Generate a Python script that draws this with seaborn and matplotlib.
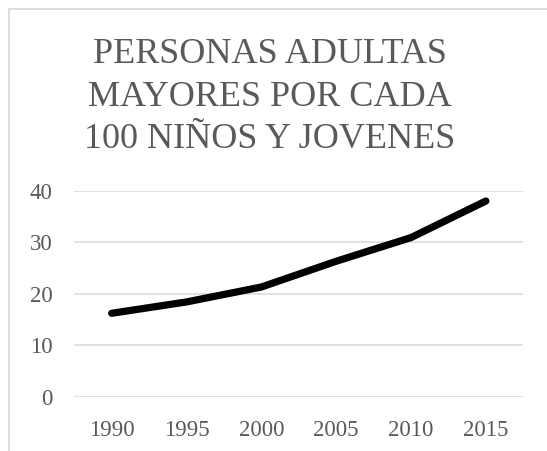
import matplotlib
matplotlib.use("Agg")
import matplotlib.pyplot as plt
import seaborn as sns
import pandas as pd
from matplotlib.patches import Rectangle

years = ["1990", "1995", "2000", "2005", "2010", "2015"]
values = [16.2, 18.4, 21.3, 26.3, 30.9, 38.0]
yticks = [0, 10, 20, 30, 40]
title_lines = ["PERSONAS ADULTAS", "MAYORES POR CADA", "100 NIÑOS Y JOVENES"]

sns.set_style("white")
plt.rcParams['font.family'] = ['Liberation Serif', 'DejaVu Serif']

df = pd.DataFrame({"year": years, "value": values})

W, H = 547, 451
fig = plt.figure(figsize=(W / 100, H / 100), dpi=100)
ax = fig.add_axes([74.3 / W, 1 - 396.7 / H, (523.3 - 74.3) / W, (396.7 - 190.7) / H])

sns.lineplot(data=df, x="year", y="value", ax=ax, color="black", linewidth=5.2,
             solid_capstyle="round", solid_joinstyle="round", sort=False)

ax.set_xlim(-0.5, len(years) - 0.5)
ax.set_ylim(0, 40)
ax.set_yticks(yticks)
ax.set_yticklabels([str(t) for t in yticks])
ax.grid(axis="y", color="#d9d9d9", linewidth=1.1)
ax.grid(axis="x", visible=False)
ax.set_axisbelow(True)
for s in ax.spines.values():
    s.set_visible(False)
ax.set_xlabel("")
ax.set_ylabel("")
ax.tick_params(axis="both", length=0, labelsize=16.5, colors="#595959")
ax.tick_params(axis="y", pad=15.5)
ax.tick_params(axis="x", pad=17)

# chart border
fig.add_artist(Rectangle((8.5 / W, -0.2), 2, 1.2 - 8.5 / H, transform=fig.transFigure,
                         fill=False, edgecolor="#d9d9d9", linewidth=1.3))

baselines = [63.3, 105.5, 148.3]
for line, b in zip(title_lines, baselines):
    fig.text(270 / W, 1 - b / H, line, ha="center", va="baseline",
             fontsize=26, color="#595959")

fig.savefig("out.png", dpi=100)
